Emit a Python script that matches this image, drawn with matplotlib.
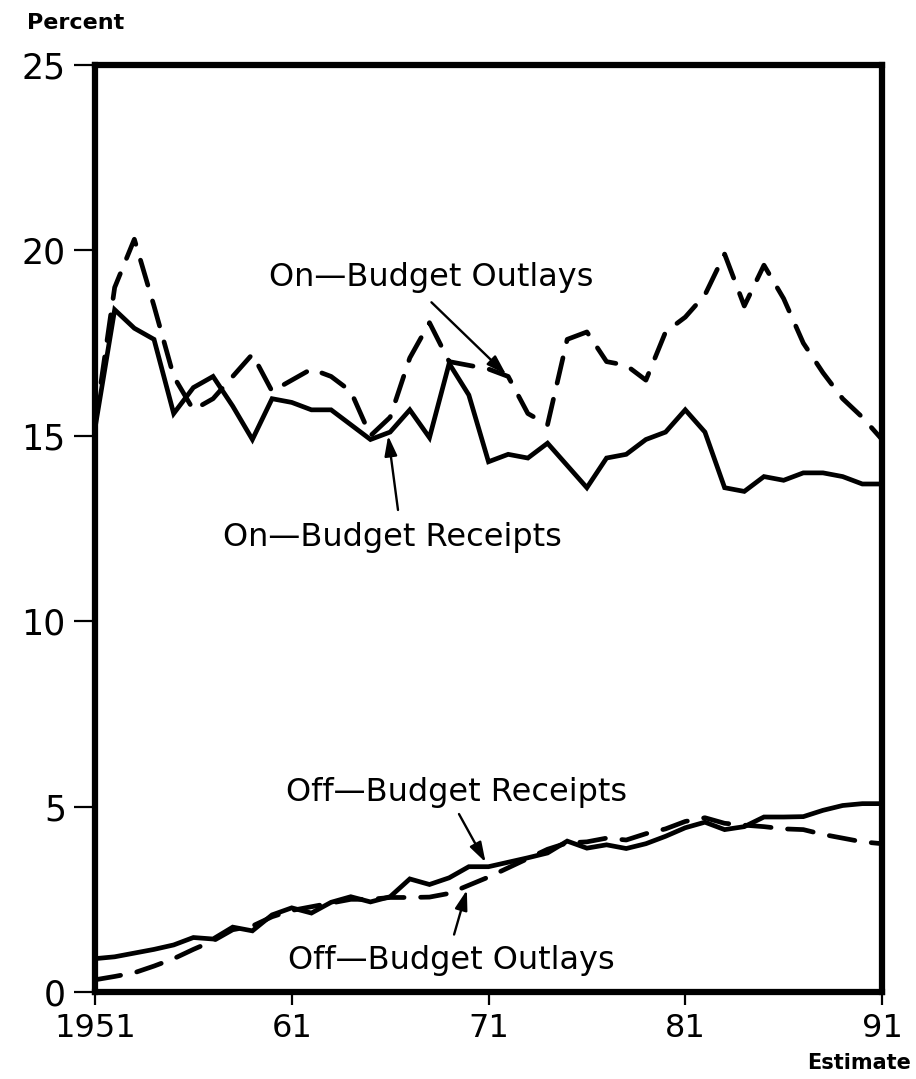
import matplotlib
matplotlib.use("Agg")
import matplotlib.pyplot as plt

years = list(range(1951, 1992))

on_receipts = [15.2, 18.4, 17.9, 17.6, 15.6, 16.3, 16.6, 15.8, 14.9, 16.0,
               15.9, 15.7, 15.7, 15.3, 14.9, 15.1, 15.7, 14.95, 16.95, 16.1,
               14.3, 14.5, 14.4, 14.8, 14.2, 13.6, 14.4, 14.5, 14.9, 15.1,
               15.7, 15.1, 13.6, 13.5, 13.9, 13.8, 14.0, 14.0, 13.9, 13.7, 13.7]

on_outlays = [15.3, 19.0, 20.3, 18.5, 16.6, 15.7, 16.0, 16.6, 17.2, 16.2,
              16.5, 16.8, 16.6, 16.2, 15.0, 15.5, 17.1, 18.05, 17.0, 16.9,
              16.8, 16.6, 15.6, 15.3, 17.6, 17.8, 17.0, 16.9, 16.5, 17.8,
              18.2, 18.8, 19.9, 18.5, 19.6, 18.7, 17.5, 16.7, 16.0, 15.5, 14.9]

off_receipts = [0.9, 0.95, 1.05, 1.15, 1.27, 1.47, 1.43, 1.75, 1.65, 2.08,
                2.27, 2.13, 2.42, 2.57, 2.43, 2.57, 3.05, 2.9, 3.08, 3.38,
                3.38, 3.5, 3.62, 3.75, 4.07, 3.88, 3.97, 3.87, 4.0, 4.2,
                4.43, 4.58, 4.38, 4.46, 4.72, 4.72, 4.73, 4.9, 5.03, 5.08, 5.08]

off_outlays = [0.33, 0.42, 0.52, 0.7, 0.9, 1.15, 1.38, 1.68, 1.78, 2.03,
               2.2, 2.3, 2.4, 2.5, 2.5, 2.55, 2.55, 2.56, 2.66, 2.88,
               3.1, 3.35, 3.6, 3.85, 4.02, 4.05, 4.15, 4.1, 4.27, 4.4,
               4.6, 4.7, 4.55, 4.5, 4.46, 4.4, 4.38, 4.25, 4.15, 4.05, 4.0]

x_ticks = [1951, 1961, 1971, 1981, 1991]
x_tick_labels = ["1951", "61", "71", "81", "91"]
y_ticks = [0, 5, 10, 15, 20, 25]

plt.rcParams["font.family"] = ["DejaVu Sans"]

fig = plt.figure(figsize=(9.16, 10.79), dpi=100)
ax = fig.add_axes([0.1037, 0.0806, 0.8592, 0.8592])

lw = 3.4
dash = (0, (5.5, 3.5))
ax.plot(years, on_receipts, color="black", lw=lw, solid_joinstyle="miter")
ax.plot(years, on_outlays, color="black", lw=lw, linestyle=dash,
        dash_capstyle="round")
ax.plot(years, off_receipts, color="black", lw=lw, solid_joinstyle="miter")
ax.plot(years, off_outlays, color="black", lw=lw, linestyle=dash,
        dash_capstyle="round")

ax.set_xlim(1951, 1991)
ax.set_ylim(0, 25)
ax.set_xticks(x_ticks)
ax.set_xticklabels(x_tick_labels)
ax.set_yticks(y_ticks)
for s in ax.spines.values():
    s.set_linewidth(4.5)
ax.tick_params(axis="y", direction="out", length=15, width=1.6, pad=6,
               labelsize=25)
ax.tick_params(axis="x", direction="out", length=9, width=1.6, pad=6,
               labelsize=23)

lab = dict(fontsize=23, ha="center", va="center")
arrow = dict(arrowstyle="-|>,head_length=1.2,head_width=0.38", color="black",
             lw=1.7, shrinkA=0, shrinkB=0)

ax.text(1968.1, 19.26, "On\u2014Budget Outlays", **lab)
ax.annotate("", xy=(1971.9, 16.65), xytext=(1968.1, 18.6), arrowprops=arrow)

ax.text(1966.1, 12.27, "On\u2014Budget Receipts", **lab)
ax.annotate("", xy=(1965.9, 15.0), xytext=(1966.4, 13.0), arrowprops=arrow)

ax.text(1969.4, 5.37, "Off\u2014Budget Receipts", **lab)
ax.annotate("", xy=(1970.85, 3.5), xytext=(1969.5, 4.8), arrowprops=arrow)

ax.text(1969.1, 0.85, "Off\u2014Budget Outlays", **lab)
ax.annotate("", xy=(1969.9, 2.75), xytext=(1969.25, 1.55), arrowprops=arrow)

fig.text(0.03, 0.988, "Percent", fontsize=16, fontweight="bold",
         ha="left", va="top")
fig.text(0.995, 0.006, "Estimate", fontsize=15, fontweight="bold",
         ha="right", va="bottom")

fig.savefig("out.png", dpi=100)
